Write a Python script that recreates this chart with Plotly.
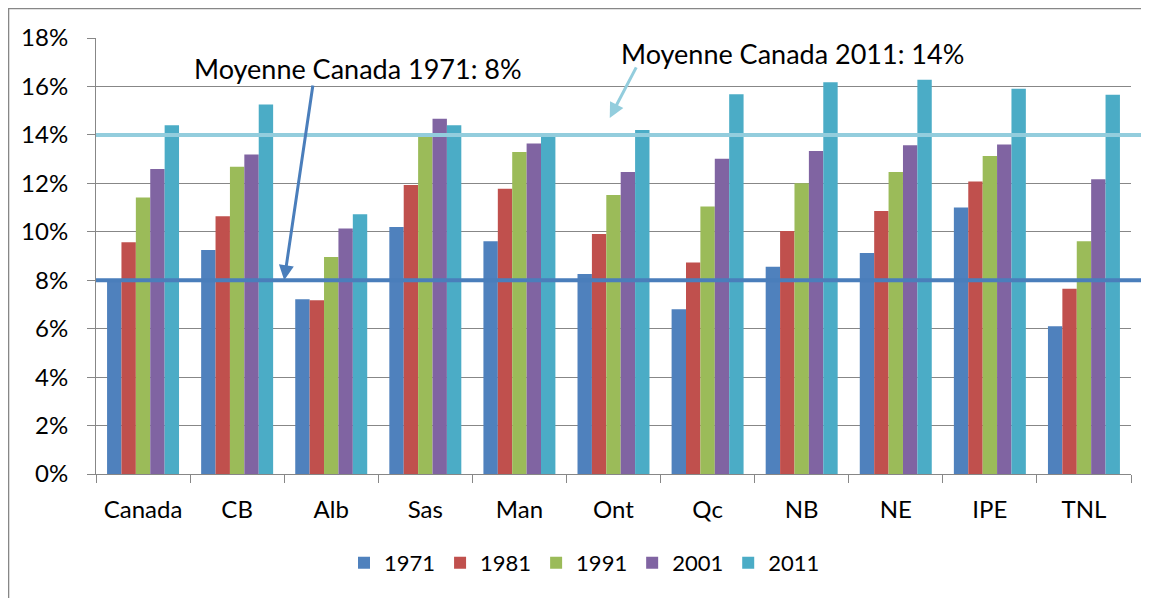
import plotly.graph_objects as go

categories = ["Canada", "CB", "Alb", "Sas", "Man", "Ont", "Qc", "NB", "NE", "IPE", "TNL"]
years = ["1971", "1981", "1991", "2001", "2011"]
v1971 = [7.95, 9.25, 7.21, 10.20, 9.61, 8.26, 6.80, 8.56, 9.12, 11.00, 6.10]
v1981 = [9.57, 10.64, 7.17, 11.93, 11.78, 9.91, 8.73, 10.03, 10.86, 12.08, 7.65]
v1991 = [11.42, 12.68, 8.96, 13.95, 13.29, 11.52, 11.04, 12.00, 12.47, 13.13, 9.61]
v2001 = [12.59, 13.19, 10.14, 14.67, 13.64, 12.47, 13.01, 13.34, 13.57, 13.60, 12.17]
v2011 = [14.40, 15.25, 10.72, 14.40, 13.95, 14.20, 15.68, 16.17, 16.28, 15.90, 15.66]
series = [v1971, v1981, v1991, v2001, v2011]
colors = ["#4F81BD", "#C0504D", "#9BBB59", "#8064A2", "#4BACC6"]
avg1971 = 8
avg2011 = 14
ytickvals = [0, 2, 4, 6, 8, 10, 12, 14, 16, 18]
yticktext = [f"{v}%" for v in ytickvals]

FONT = "Lato"

fig = go.Figure()
for name, vals, col in zip(years, series, colors):
    fig.add_trace(go.Bar(x=categories, y=vals, name=name, marker_color=col,
                         marker_line_width=0))

fig.update_layout(
    width=1141, height=590,
    margin=dict(l=88, r=18, t=30, b=124),
    paper_bgcolor="white", plot_bgcolor="white",
    barmode="group", bargap=0.235, bargroupgap=0,
    font=dict(family=FONT, size=24, color="black"),
    showlegend=True,
    legend=dict(orientation="h", x=0.472, xanchor="center", y=-0.204, yanchor="middle",
                font=dict(size=22), traceorder="normal"),
)
fig.update_yaxes(range=[0, 18], tickvals=ytickvals, ticktext=yticktext,
                 showgrid=True, gridcolor="#878787", gridwidth=1,
                 showline=True, linecolor="#878787", linewidth=1,
                 ticks="outside", ticklen=8, tickcolor="#878787",
                 ticklabelstandoff=14, zeroline=False)
fig.update_xaxes(showline=True, linecolor="#878787", linewidth=1,
                 ticks="outside", ticklen=8, tickcolor="#878787",
                 tickson="boundaries", ticklabelstandoff=14)

# reference lines
fig.add_shape(type="line", xref="paper", yref="y", x0=0, x1=1.03, y0=avg2011, y1=avg2011,
              line=dict(color="#93CDDD", width=4), layer="above")
fig.add_shape(type="line", xref="paper", yref="y", x0=0, x1=1.03, y0=avg1971, y1=avg1971,
              line=dict(color="#4A7EBB", width=4), layer="above")
# outer chart frame
fig.add_shape(type="rect", xref="paper", yref="paper", x0=-0.0845, x1=1.05, y0=-0.4, y1=1.0675,
              line=dict(color="#878787", width=1.5), layer="below")

# annotations
fig.add_annotation(x=1.5, y=avg1971, ax=1.807, ay=16.1, axref="x", ayref="y",
                   xref="x", yref="y", text="", showarrow=True,
                   arrowhead=2, arrowsize=1, arrowwidth=3, arrowcolor="#4A7EBB")
fig.add_annotation(x=2.28, y=16.76, xref="x", yref="y", text="Moyenne Canada 1971: 8%",
                   showarrow=False, font=dict(size=27))
fig.add_annotation(x=4.96, y=14.7, ax=5.25, ay=16.85, axref="x", ayref="y",
                   xref="x", yref="y", text="", showarrow=True,
                   arrowhead=2, arrowsize=1, arrowwidth=3, arrowcolor="#93CDDD")
fig.add_annotation(x=6.90, y=17.34, xref="x", yref="y", text="Moyenne Canada 2011: 14%",
                   showarrow=False, font=dict(size=27))

fig.write_html("out.html")
